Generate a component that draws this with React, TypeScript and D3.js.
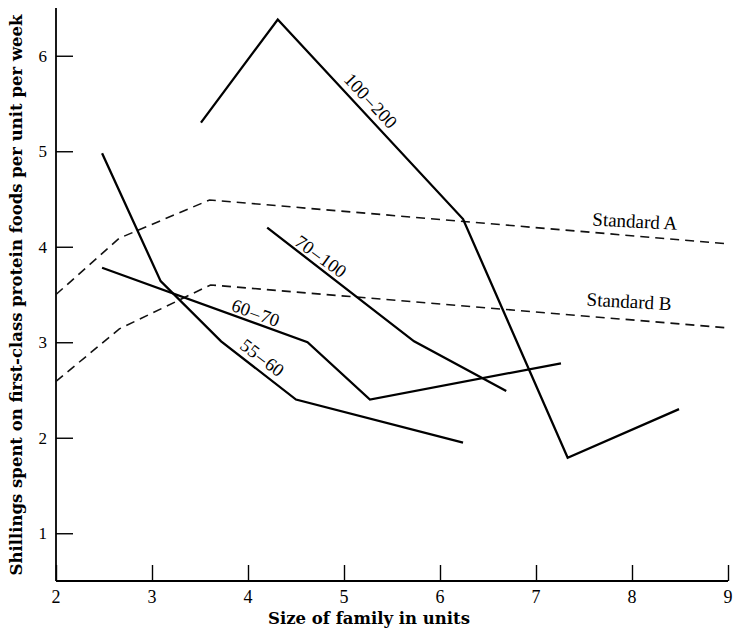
import * as d3 from "d3"
import { useRef, useEffect } from "react"

const xTicks = [2, 3, 4, 5, 6, 7, 8, 9]
const yTicks = [1, 2, 3, 4, 5, 6]

// income groups (shillings per unit), solid lines
const size55to60 = [2.48, 3.09, 3.72, 4.5, 6.24]
const spend55to60 = [4.98, 3.64, 3.01, 2.4, 1.95]

const size60to70 = [2.48, 4.62, 5.27, 7.26]
const spend60to70 = [3.78, 3.0, 2.4, 2.78]

const size70to100 = [4.2, 5.73, 6.69]
const spend70to100 = [4.2, 3.01, 2.49]

const size100to200 = [3.51, 4.31, 6.24, 7.33, 8.49]
const spend100to200 = [5.3, 6.38, 4.29, 1.79, 2.3]

// standards, dashed lines
const sizeStdA = [2, 2.66, 3.6, 9]
const spendStdA = [3.5, 4.09, 4.49, 4.03]

const sizeStdB = [2, 2.66, 3.61, 9]
const spendStdB = [2.59, 3.14, 3.6, 3.15]

const groupLabels = ["55\u200a\u2013\u200a60", "60\u200a\u2013\u200a70", "70\u200a\u2013\u200a100", "100\u200a\u2013\u200a200"]
const labelSize = [4.15, 4.08, 4.76, 5.28]
const labelSpend = [2.84, 3.31, 3.9, 5.53]
const labelAngle = [37, 20, 36, 47]

const standardLabels = ["Standard A", "Standard B"]
const standardLabelSize = [8.03, 7.97]
const standardLabelSpend = [4.27, 3.43]

type Pt = [number, number]
const zip = (xs: number[], ys: number[]): Pt[] => xs.map((x, i) => [x, ys[i]])

export default function App() {
  const svgRef = useRef<SVGSVGElement>(null)

  useEffect(() => {
    document.body.style.margin = "0"
    if (!svgRef.current) return
    const width = 733
    const height = 634

    const svg = d3.select(svgRef.current)
    svg.selectAll("*").remove()
    svg.attr("width", width).attr("height", height).style("background", "#fff")

    const x = d3.scaleLinear().domain([2, 9]).range([56, 728])
    const y = d3.scaleLinear().domain([0.5, 6.5]).range([581, 8])

    const serif = "'Liberation Serif', serif"
    const titleFont = "'DejaVu Serif', serif"

    // y axis
    svg
      .append("g")
      .attr("transform", `translate(${x(2)},0)`)
      .call(d3.axisRight(y).tickValues(yTicks).tickSize(17).tickFormat(() => ""))
      .call((g) => g.select(".domain").attr("d", `M0,${y(6.5)}V${y(0.5)}`).attr("stroke-width", 1.8))
      .call((g) => g.selectAll(".tick line").attr("stroke-width", 1.4))

    svg
      .append("g")
      .selectAll("text")
      .data(yTicks)
      .enter()
      .append("text")
      .attr("x", x(2) - 9)
      .attr("y", (d) => y(d))
      .attr("dy", "0.35em")
      .attr("text-anchor", "end")
      .style("font-family", serif)
      .style("font-size", "17px")
      .text((d) => d)

    // x axis
    svg
      .append("g")
      .attr("transform", `translate(0,${y(0.5)})`)
      .call(d3.axisTop(x).tickValues(xTicks).tickSize(16).tickFormat(() => ""))
      .call((g) => g.select(".domain").attr("d", `M${x(2)},0H${x(9)}`).attr("stroke-width", 1.8))
      .call((g) => g.selectAll(".tick line").attr("stroke-width", 1.4))

    svg
      .append("g")
      .selectAll("text")
      .data(xTicks)
      .enter()
      .append("text")
      .attr("x", (d) => x(d))
      .attr("y", y(0.5) + 22)
      .attr("text-anchor", "middle")
      .style("font-family", serif)
      .style("font-size", "18px")
      .text((d) => d)

    // axis titles
    svg
      .append("text")
      .attr("x", 369)
      .attr("y", 624)
      .attr("text-anchor", "middle")
      .style("font-family", titleFont)
      .style("font-size", "16.5px")
      .style("font-weight", "bold")
      .text("Size of family in units")

    svg
      .append("text")
      .attr("transform", `translate(22,295) rotate(-90)`)
      .attr("text-anchor", "middle")
      .style("font-family", titleFont)
      .style("font-size", "16.5px")
      .style("font-weight", "600")
      .text("Shillings spent on first-class protein foods per unit per week")

    const line = d3
      .line<Pt>()
      .x((d) => x(d[0]))
      .y((d) => y(d[1]))

    const standards = [zip(sizeStdA, spendStdA), zip(sizeStdB, spendStdB)]
    svg
      .append("g")
      .selectAll("path")
      .data(standards)
      .enter()
      .append("path")
      .attr("d", line)
      .attr("fill", "none")
      .attr("stroke", "#111")
      .attr("stroke-width", 1.6)
      .attr("stroke-dasharray", "9,6")

    const groups = [
      zip(size55to60, spend55to60),
      zip(size60to70, spend60to70),
      zip(size70to100, spend70to100),
      zip(size100to200, spend100to200),
    ]
    svg
      .append("g")
      .selectAll("path")
      .data(groups)
      .enter()
      .append("path")
      .attr("d", line)
      .attr("fill", "none")
      .attr("stroke", "#000")
      .attr("stroke-width", 2.3)
      .attr("stroke-linejoin", "miter")

    svg
      .append("g")
      .selectAll("text")
      .data(groupLabels)
      .enter()
      .append("text")
      .attr(
        "transform",
        (_, i) => `translate(${x(labelSize[i])},${y(labelSpend[i])}) rotate(${labelAngle[i]})`,
      )
      .attr("text-anchor", "middle")
      .attr("dy", "0.35em")
      .style("font-family", serif)
      .style("font-size", "18.5px")
      .text((d) => d)

    svg
      .append("g")
      .selectAll("text")
      .data(standardLabels)
      .enter()
      .append("text")
      .attr(
        "transform",
        (_, i) => `translate(${x(standardLabelSize[i])},${y(standardLabelSpend[i])}) rotate(3)`,
      )
      .attr("text-anchor", "middle")
      .attr("dy", "0.35em")
      .style("font-family", serif)
      .style("font-size", "19px")
      .text((d) => d)
  }, [])

  return <svg ref={svgRef} style={{ display: "block" }}></svg>
}
